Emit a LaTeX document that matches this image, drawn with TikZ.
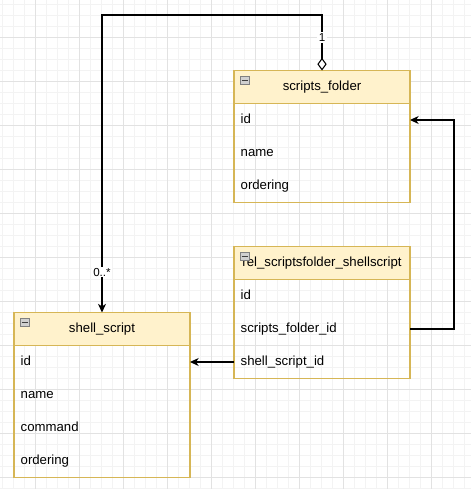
\documentclass[tikz,border=0pt]{standalone}
\usepackage{fontspec}
\setmainfont{Liberation Sans}
\usepackage{xcolor}
\definecolor{EntityFill}{HTML}{FFF2CC}
\definecolor{EntityLine}{HTML}{D6B656}
\definecolor{GridMinor}{HTML}{F3F3F3}
\definecolor{GridMajor}{HTML}{E2E2E2}
\definecolor{IconFill}{HTML}{D0D0D0}
\definecolor{IconLine}{HTML}{808080}
\usetikzlibrary{arrows.meta,positioning}

\begin{document}
\begin{tikzpicture}[x=0.75pt, y=-0.75pt, node distance=0pt, every node/.style={font=\fontsize{9.9}{12}\selectfont, outer sep=0pt}, tablehead/.style={draw=EntityLine, fill=EntityFill, line width=0.8pt, minimum width=132pt, minimum height=24.75pt, inner sep=0pt}, tablerow/.style={minimum height=24.75pt, text width=122pt, text height=7.1pt, text depth=2pt, inner xsep=5pt, inner ysep=0pt, align=left}, tablebox/.style={draw=EntityLine, line width=0.8pt}, iconbox/.style={draw=IconLine, fill=IconFill, line width=0.5pt}, link/.style={line width=0.8pt, black}, edgelabel/.style={fill=white, inner sep=1pt, font=\fontsize{8.7}{10}\selectfont}, gridminor/.style={GridMinor, line width=0.6pt}, gridmajor/.style={GridMajor, line width=0.6pt}]
        \useasboundingbox[fill=white] (0,0) rectangle (471,489);
        % background grid
        \foreach \gx in {2.3,13.3,...,471} \draw[gridminor] (\gx,0) -- (\gx,489);
        \foreach \gy in {4.3,15.3,...,489} \draw[gridminor] (0,\gy) -- (471,\gy);
        \foreach \gx in {35.3,79.3,...,471} \draw[gridmajor] (\gx,0) -- (\gx,489);
        \foreach \gy in {37.3,81.3,...,489} \draw[gridmajor] (0,\gy) -- (471,\gy);

        % scripts_folder
        \node[tablehead] (sfHead) at (322,87) {scripts\_folder};
        \node[tablerow, below=of sfHead] (sfId) {id};
        \node[tablerow, below=of sfId] (sfName) {name};
        \node[tablerow, below=of sfName] (sfOrd) {ordering};
        \draw[tablebox] (sfHead.north west) rectangle (sfOrd.south east);

        % rel_scriptsfolder_shellscript
        \node[tablehead, below=33pt of sfOrd] (relHead) {rel\_scriptsfolder\_shellscript};
        \node[tablerow, below=of relHead] (relId) {id};
        \node[tablerow, below=of relId] (relSf) {scripts\_folder\_id};
        \node[tablerow, below=of relSf] (relSs) {shell\_script\_id};
        \draw[tablebox] (relHead.north west) rectangle (relSs.south east);

        % shell_script
        \node[tablehead, anchor=north east] (ssHead) at ([xshift=-33pt]relSf.north west) {shell\_script};
        \node[tablerow, below=of ssHead] (ssId) {id};
        \node[tablerow, below=of ssId] (ssName) {name};
        \node[tablerow, below=of ssName] (ssCmd) {command};
        \node[tablerow, below=of ssCmd] (ssOrd) {ordering};
        \draw[tablebox] (ssHead.north west) rectangle (ssOrd.south east);

        \foreach \t in {sfHead,relHead,ssHead} {
            \draw[iconbox] ([shift={(6,6)}]\t.north west) rectangle ++(9,8);
            \draw[black!75, line width=0.6pt] ([shift={(7.5,10)}]\t.north west) -- ++(6,0);
        }

        \draw[link, {Diamond[fill=white, length=9.5pt, width=7pt]}-{Stealth[length=6.5pt, width=6pt, inset=2pt]}] (sfHead.north) -- node[pos=0.6, edgelabel] {1} ++(0,-55.5) -| node[pos=0.932, edgelabel] {0..*} (ssHead.north);
        \draw[link, -{Stealth[length=6.5pt, width=6pt, inset=2pt]}] (relSf.east) -- ++(44,0) |- (sfId.east);
        \draw[link, -{Stealth[length=6.5pt, width=6pt, inset=2pt]}] (relSs.west) -- (ssId.east);
    \end{tikzpicture}
\end{document}
